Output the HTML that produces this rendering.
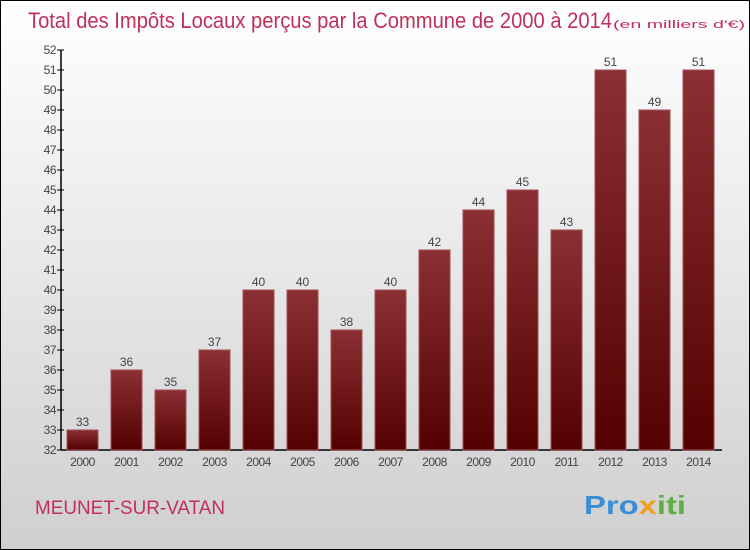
<!DOCTYPE html>
<html><head><meta charset="utf-8"><style>
body{margin:0}
#c{width:750px;height:550px;position:relative;box-sizing:border-box;border:1px solid #000;background:linear-gradient(#ffffff,#cfcfcf);font-family:"Liberation Sans",sans-serif;overflow:hidden}
</style></head><body>
<div id="c">
<svg id="s" width="750" height="550" style="position:absolute;left:-1px;top:-1px">
<defs><linearGradient id="g" x1="0" y1="0" x2="0" y2="1"><stop offset="0" stop-color="#8a3034"/><stop offset="1" stop-color="#550000"/></linearGradient></defs>
<text x="28" y="28" font-size="22" fill="#c0305a" textLength="584" lengthAdjust="spacingAndGlyphs">Total des Impôts Locaux perçus par la Commune de 2000 à 2014</text>
<text x="613" y="28" font-size="11" fill="#c0305a" textLength="132" lengthAdjust="spacingAndGlyphs">(en milliers d'€)</text>
<text x="35" y="514" font-size="19" fill="#c0305a" textLength="190" lengthAdjust="spacingAndGlyphs">MEUNET-SUR-VATAN</text>
<text x="584" y="514" font-size="26" font-weight="bold" fill="#3a8ed6" textLength="102" lengthAdjust="spacingAndGlyphs">Pro<tspan fill="#f0a020">x</tspan><tspan fill="#5cb040">iti</tspan></text>
<g id="plot"></g>
</svg>
</div>
<script>
const years=["2000","2001","2002","2003","2004","2005","2006","2007","2008","2009","2010","2011","2012","2013","2014"];
const values=[33,36,35,37,40,40,38,40,42,44,45,43,51,49,51];
const yTicks=[32,33,34,35,36,37,38,39,40,41,42,43,44,45,46,47,48,49,50,51,52];
const NS="http://www.w3.org/2000/svg";
const p=document.getElementById('plot');
const y=v=>450-(v-32)*20;
const x=i=>82.5+i*44;
function mk(t,a){const e=document.createElementNS(NS,t);for(const k in a)e.setAttribute(k,a[k]);p.appendChild(e);return e;}
let ax=mk('line',{x1:61,y1:50,x2:61,y2:450,stroke:'#000','stroke-width':1.5});


let bx=mk('line',{x1:61,y1:450,x2:722,y2:450,stroke:'#000','stroke-width':1.5});


yTicks.forEach(v=>{
 let t=mk('line',{x1:57,x2:64,y1:y(v),y2:y(v),stroke:'#000'});
 
 
 let l=mk('text',{x:56,y:y(v)+4,'text-anchor':'end','font-size':12,fill:'#444','letter-spacing':'-0.5'});
 l.textContent=v;
 
 
});
years.forEach((yr,i)=>{
 const v=values[i];
 let r=mk('rect',{x:x(i)-15.5,y:y(v),width:31,height:450-y(v),fill:'url(#g)',stroke:'#a05058','stroke-width':1});
 
 
 let vl=mk('text',{x:x(i),y:y(v)-4,'text-anchor':'middle','font-size':12,fill:'#444'});
 vl.textContent=v;
 
 
 let xl=mk('text',{x:x(i),y:466,'text-anchor':'middle','font-size':12,fill:'#444','letter-spacing':'-0.5'});
 xl.textContent=yr;
 
 
});
</script>
</body></html>
